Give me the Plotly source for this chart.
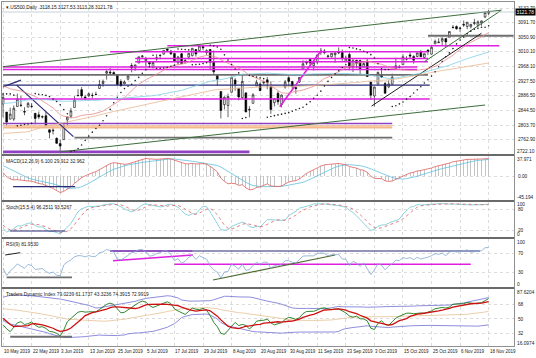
import numpy as np
import pandas as pd
import plotly.graph_objects as go
from plotly.subplots import make_subplots

# ---------------- data ----------------
# closes before the first visible bar (2 Jan 2019 .. 9 May 2019), used only to warm up indicators
warm_close = [2510.0, 2447.9, 2531.9, 2549.7, 2574.4, 2585.0, 2596.6, 2596.3, 2582.6, 2610.3, 2616.1,
              2636.0, 2670.7, 2660.0, 2632.9, 2638.7, 2642.3, 2664.8, 2643.9, 2640.0, 2681.1, 2704.1,
              2706.5, 2724.9, 2737.7, 2731.6, 2706.1, 2707.9, 2709.8, 2744.7, 2753.0, 2745.7, 2775.6,
              2776.0, 2779.8, 2784.7, 2774.9, 2792.7, 2796.1, 2793.9, 2792.4, 2784.5,
              2803.7, 2792.8, 2789.7, 2771.5, 2748.9, 2743.1, 2783.3, 2791.5, 2810.9, 2808.5, 2822.5,
              2832.9, 2832.6, 2824.2, 2854.9, 2800.7, 2798.4, 2818.5, 2805.4, 2815.4, 2834.4,
              2867.2, 2867.2, 2873.4, 2879.4, 2892.7, 2895.8, 2878.2, 2888.2, 2888.3, 2907.4, 2905.6,
              2907.1, 2900.5, 2905.0, 2905.0, 2908.0, 2933.7, 2927.3, 2926.2, 2939.9, 2943.0, 2945.8,
              2923.7, 2917.5, 2945.6, 2932.5, 2884.1, 2879.4, 2870.7]

open_ = [2863.1, 2840.2, 2820.1, 2820.4, 2855.8, 2858.6, 2841.9, 2854.0, 2856.1, 2836.7, 2832.4, 2826.1, 2830.0, 2790.3, 2786.9, 2766.2,
         2751.5, 2762.6, 2818.1, 2828.5, 2852.9, 2885.8, 2903.3, 2882.7, 2886.2, 2886.8, 2889.8, 2906.7, 2920.6, 2949.6, 2952.7, 2951.4, 2945.8, 2926.1, 2919.7, 2932.9,
         2971.4, 2964.7, 2978.1, 2996.0, 2984.3, 2979.8, 2965.5, 2989.3, 2999.6, 3003.4, 3017.8, 3012.1, 3005.1, 2978.9, 3004.3, 2981.9, 2994.7, 2998.8, 3016.3, 3013.3, 3024.5, 3007.7, 3016.2,
         2980.3, 2943.9, 2898.1, 2861.2, 2858.7, 2896.2, 2930.5, 2907.1, 2880.7, 2894.2, 2846.2, 2864.7, 2913.5, 2919.0, 2922.0, 2930.9, 2911.1, 2866.7, 2893.1, 2861.3, 2910.4, 2937.1,
         2926.0, 2909.0, 2924.7, 2960.6, 2980.3, 2988.4, 2971.0, 2981.4, 3009.1, 3012.2, 2996.4, 2995.7, 3001.5, 3010.4, 3008.4, 2983.5, 3002.4, 2968.4, 2985.7, 2985.5, 2967.1,
         2983.7, 2924.8, 2885.4, 2918.6, 2944.2, 2920.4, 2911.1, 2918.6, 2963.1, 2965.8, 2973.6, 2989.7, 3000.8, 2996.8, 2996.5, 3010.7, 2994.0, 3014.8, 3003.3, 3032.1, 3035.4, 3039.7, 3046.9,
         3050.7, 3079.0, 3080.8, 3075.1, 3087.0, 3081.2, 3080.3, 3089.3, 3084.2, 3090.8, 3107.9, 3118.15]
high = [2891.3, 2840.2, 2852.5, 2858.7, 2892.2, 2885.5, 2853.9, 2868.9, 2865.5, 2836.7, 2841.4, 2831.0, 2840.5, 2792.0, 2799.0, 2768.9,
        2763.1, 2804.5, 2827.3, 2852.1, 2885.0, 2904.8, 2910.6, 2888.6, 2895.2, 2894.5, 2897.3, 2930.8, 2931.7, 2958.1, 2964.2, 2954.9, 2946.5, 2932.6, 2929.3, 2944.0,
        2977.9, 2973.2, 2995.8, 3000.0, 2995.0, 2980.8, 2981.9, 3003.0, 3002.3, 3013.9, 3017.8, 3015.0, 3005.3, 2998.3, 3006.5, 2990.7, 3005.9, 3019.6, 3016.3, 3028.0, 3025.6, 3017.2, 3017.4,
        3013.6, 2945.5, 2898.1, 2884.4, 2892.2, 2938.7, 2935.8, 2907.6, 2943.3, 2894.2, 2856.7, 2893.6, 2931.0, 2923.6, 2928.7, 2939.1, 2927.0, 2879.3, 2898.8, 2890.0, 2930.5, 2940.4,
        2928.0, 2914.4, 2938.8, 2985.9, 2985.0, 2989.4, 2979.4, 3000.9, 3020.7, 3017.3, 3002.2, 3006.2, 3007.8, 3022.0, 3016.4, 2999.2, 3008.0, 2989.8, 2987.3, 2987.3, 2983.8,
        2992.5, 2924.8, 2911.1, 2953.7, 2959.8, 2925.5, 2929.3, 2948.5, 2993.3, 2972.8, 3003.3, 2997.5, 3008.3, 3000.0, 3007.3, 3014.6, 3004.8, 3016.1, 3027.4, 3044.1, 3047.9, 3050.1, 3046.9,
        3067.0, 3085.2, 3084.0, 3078.3, 3097.8, 3093.1, 3088.3, 3102.6, 3098.1, 3098.2, 3120.5, 3127.53]
low = [2825.4, 2801.4, 2820.1, 2815.1, 2855.8, 2854.2, 2831.3, 2854.0, 2851.1, 2805.5, 2820.2, 2822.0, 2801.6, 2766.1, 2776.7, 2750.5,
       2728.8, 2762.6, 2800.9, 2822.5, 2852.9, 2885.5, 2878.5, 2874.7, 2882.0, 2879.6, 2887.3, 2905.4, 2911.4, 2931.5, 2946.9, 2944.1, 2916.0, 2913.0, 2918.6, 2929.1,
       2952.2, 2955.9, 2978.0, 2993.0, 2968.0, 2970.1, 2963.4, 2984.6, 2988.8, 3001.9, 3008.8, 3001.2, 2984.3, 2973.1, 2975.9, 2976.7, 2988.6, 2996.8, 2996.2, 3012.6, 3014.5, 3000.9, 2958.1,
       2945.2, 2914.1, 2822.1, 2847.4, 2825.7, 2895.2, 2900.2, 2873.1, 2877.1, 2839.6, 2825.5, 2864.7, 2913.5, 2899.6, 2917.9, 2904.5, 2835.0, 2856.0, 2860.6, 2853.1, 2905.7, 2913.3,
       2905.0, 2891.9, 2921.9, 2960.6, 2972.5, 2969.4, 2957.0, 2975.3, 3000.9, 3002.9, 2990.7, 2993.7, 2978.6, 3003.2, 2984.7, 2982.2, 2957.7, 2952.9, 2963.7, 2945.5, 2967.1,
       2938.7, 2874.9, 2855.9, 2918.6, 2935.7, 2892.7, 2907.4, 2917.1, 2963.1, 2962.9, 2973.6, 2985.2, 2991.8, 2976.3, 2995.4, 2995.0, 2991.2, 3000.4, 3001.9, 3032.1, 3034.8, 3026.0, 3023.2,
       3050.7, 3074.9, 3072.2, 3065.9, 3080.2, 3073.6, 3075.8, 3084.7, 3078.8, 3083.3, 3104.6, 3113.28]
close = [2881.4, 2811.9, 2834.4, 2850.9, 2876.3, 2859.5, 2840.2, 2864.4, 2856.3, 2822.2, 2826.1, 2827.0, 2802.4, 2783.0, 2788.9, 2752.1,
         2744.5, 2803.3, 2826.2, 2843.5, 2873.3, 2886.7, 2885.7, 2879.8, 2891.6, 2887.0, 2889.7, 2917.8, 2926.5, 2954.2, 2950.5, 2945.4, 2917.4, 2913.8, 2924.9, 2941.8,
         2964.3, 2973.0, 2995.8, 2998.0, 2990.4, 2976.0, 2979.6, 2993.1, 2999.9, 3013.8, 3014.3, 3004.0, 2984.4, 2995.1, 2976.6, 2985.0, 3005.5, 3019.6, 3003.7, 3025.9, 3021.0, 3013.2, 2980.4,
         2953.6, 2932.1, 2844.7, 2881.8, 2884.0, 2938.1, 2918.7, 2882.7, 2926.3, 2840.6, 2847.6, 2888.7, 2923.7, 2900.5, 2924.4, 2923.0, 2847.1, 2878.4, 2869.2, 2887.9, 2924.6, 2926.5,
         2912.0, 2906.3, 2937.8, 2976.0, 2978.7, 2978.4, 2979.4, 3000.9, 3009.6, 3007.4, 2998.0, 3005.7, 3006.7, 3006.8, 2992.1, 2991.8, 2966.6, 2984.9, 2977.6, 2961.8, 2976.7,
         2940.3, 2887.6, 2910.6, 2952.0, 2938.8, 2893.1, 2919.4, 2938.1, 2970.3, 2966.2, 2995.7, 2989.7, 2998.0, 2986.2, 3006.7, 2996.0, 3004.5, 3010.3, 3022.6, 3039.4, 3036.9, 3046.8, 3037.6,
         3066.9, 3078.3, 3074.6, 3076.8, 3085.2, 3093.1, 3087.0, 3091.8, 3094.0, 3096.6, 3120.5, 3121.78]

first_date = "2019-05-10"

# axis scales: (bottom value, top value), inner tick values, and the labels of the two ends
price_range = (2722.10, 3150.0)
price_ticks = [2762.90, 2803.70, 2844.50, 2886.50, 2927.50, 2968.10, 3010.10, 3050.90, 3091.70, 3132.70]
price_ends = ("2722.10", None)
macd_range = (-45.194, 37.971)
macd_ticks = [0.0]
macd_tick_text = ["0.00"]
macd_ends = ("-45.194", "37.971")
stoch_range = (0, 100)
stoch_ticks = [20, 80]
stoch_ends = ("0", "100")
rsi_range = (0, 100)
rsi_ticks = [30, 70]
rsi_ends = ("0", "100")
tdi_range = (16.0974, 87.6204)
tdi_ticks = [32, 50, 68]
tdi_ends = ("16.0974", "87.6204")

# hand-drawn horizontal levels on the price window: level, first bar, last bar
h_levels = [3055.0, 3027.0, 3010.0, 2991.0, 2982.0, 2967.0, 2960.0, 2945.0, 2916.0, 2877.0, 2808.0, 2801.0, 2796.0, 2768.0, 2730.0, 2726.0]
h_from =   [119,    46,     30,     37,     37,     0,      0,      0,      0,      0,      0,      0,      0,      20,     0,      0]
h_to =     [143,    139,    119,    119,    119,    116,    116,    119,    119.5,  119.5,  109,    109,    109,    109,    69,     69]
h_style =  ["gray", "mag",  "mag",  "mag",  "mag",  "mag",  "mag",  "gray", "navy", "mag",  "purple", "orange", "orange", "gray", "purple", "purple"]

# hand-drawn trend lines on the price window: (bar, price) -> (bar, price)
t_x0 = [0, 16, 3.8, 0, 103.2, 118, 77.5]
t_y0 = [2968, 2728, 2916, 2911, 2857, 2982, 2855]
t_x1 = [139.5, 135, 19.7, 5, 134, 139.6, 89.2]
t_y1 = [3127, 2860, 2771, 2930, 3062, 3127, 3015]
t_style = ["green", "green", "navy", "navy", "black", "green", "mag"]

# hand-drawn lines on the RSI window
r_x0 = [30, 30, 30.8, 48, 58.8, 0.6, 1]
r_y0 = [75, 75, 54.8, 47.3, 14.6, 66.7, 20.2]
r_x1 = [133.6, 53, 53.2, 131, 93, 4.8, 19.3]
r_y1 = [75, 75, 66.7, 47.3, 66.7, 71.5, 20.2]
r_style = ["navy", "purple", "mag", "mag", "olive", "black", "gray"]

macd_line = ([2.8, 20.2], [-20.1, -20.1])
stoch_line = ([2, 17.4], [17.1, 17.1])
tdi_line = ([2, 19.3], [27.8, 27.8])

# ---------------- indicators ----------------
n = len(close)
dates = pd.bdate_range(first_date, periods=n)
bars = np.arange(n)
nw = len(warm_close)
c_all = pd.Series(warm_close + close, dtype=float)
h_all = pd.Series(warm_close + high, dtype=float)
l_all = pd.Series(warm_close + low, dtype=float)

def vis(s):
    return np.asarray(s)[nw:]

sma20 = vis(c_all.rolling(20, min_periods=1).mean())
sma50 = vis(c_all.rolling(50, min_periods=1).mean())
sma100 = vis(c_all.rolling(100, min_periods=1).mean())

ema12 = c_all.ewm(span=12, adjust=False).mean()
ema26 = c_all.ewm(span=26, adjust=False).mean()
macd = ema12 - ema26
sig = macd.rolling(9, min_periods=1).mean()

def rsi(s, p):
    d = s.diff()
    up = d.clip(lower=0)
    dn = -d.clip(upper=0)
    au = up.ewm(alpha=1 / p, adjust=False).mean()
    ad = dn.ewm(alpha=1 / p, adjust=False).mean()
    return 100 - 100 / (1 + au / ad)

rsi9 = rsi(c_all, 9)

hh = h_all.rolling(15, min_periods=1).max()
ll = l_all.rolling(15, min_periods=1).min()
st_main = 100 * (c_all - ll).rolling(5, min_periods=1).sum() / (hh - ll).rolling(5, min_periods=1).sum()
st_sig = st_main.rolling(4, min_periods=1).mean()

r13 = rsi(c_all, 13)
tdi_green = r13.rolling(2, min_periods=1).mean()
tdi_red = r13.rolling(7, min_periods=1).mean()
tdi_mid = r13.rolling(34, min_periods=1).mean()
tdi_sd = r13.rolling(34, min_periods=1).std(ddof=0)
tdi_up = tdi_mid + 1.6185 * tdi_sd
tdi_lo = tdi_mid - 1.6185 * tdi_sd

def psar(h, l, af0=0.02, afmax=0.2):
    m = len(h)
    out = np.zeros(m)
    bull = False
    af = af0
    ep = l[0]
    out[0] = h[0]
    for i in range(1, m):
        s = out[i - 1] + af * (ep - out[i - 1])
        if bull:
            s = min(s, l[i - 1], l[max(i - 2, 0)])
            if l[i] < s:
                bull = False; s = ep; ep = l[i]; af = af0
            elif h[i] > ep:
                ep = h[i]; af = min(af + af0, afmax)
        else:
            s = max(s, h[i - 1], h[max(i - 2, 0)])
            if h[i] > s:
                bull = True; s = ep; ep = h[i]; af = af0
            elif l[i] < ep:
                ep = l[i]; af = min(af + af0, afmax)
        out[i] = s
    return out

sar = psar(np.array(high), np.array(low))

# ---------------- figure ----------------
W, H = 536, 358
fig = make_subplots(rows=5, cols=1, shared_xaxes=True, vertical_spacing=0.004)

col = {"mag": "#e020e0", "gray": "#6e6e6e", "navy": "#2a2a78", "purple": "#9040c0",
       "orange": "#f5b88a", "green": "#3c6e3c", "black": "#202020", "olive": "#4f6b2f"}
wid = {"mag": 1.6, "gray": 1.8, "navy": 1.2, "purple": 1.5, "orange": 1.6, "green": 1.0,
       "black": 1.0, "olive": 1.2}

def seg(x, y, style, row, w=None):
    fig.add_trace(go.Scatter(x=x, y=y, mode="lines", line=dict(color=col[style], width=w or wid[style]),
                             showlegend=False, hoverinfo="skip"), row=row, col=1)

for lv, a, b, s in zip(h_levels, h_from, h_to, h_style):
    seg([a, b], [lv, lv], s, 1)
for a, ya, b, yb, s in zip(t_x0, t_y0, t_x1, t_y1, t_style):
    seg([a, b], [ya, yb], s, 1)

# bid line
fig.add_trace(go.Scatter(x=[-1, 144], y=[close[-1], close[-1]], mode="lines",
                         line=dict(color="#b8c4d0", width=0.8), showlegend=False), row=1, col=1)

fig.add_trace(go.Scatter(x=bars, y=sma100, mode="lines", line=dict(color="#e8b890", width=0.8), showlegend=False), row=1, col=1)
fig.add_trace(go.Scatter(x=bars, y=sma50, mode="lines", line=dict(color="#80d0e8", width=0.8), showlegend=False), row=1, col=1)
fig.add_trace(go.Scatter(x=bars, y=sma20, mode="lines", line=dict(color="#e88a8a", width=0.8), showlegend=False), row=1, col=1)
fig.add_trace(go.Scatter(x=bars, y=sar, mode="markers", marker=dict(color="#202020", size=1.6), showlegend=False), row=1, col=1)

fig.add_trace(go.Candlestick(x=bars, open=open_, high=high, low=low, close=close,
                             increasing=dict(line=dict(color="black", width=0.6), fillcolor="white"),
                             decreasing=dict(line=dict(color="black", width=0.6), fillcolor="black"),
                             whiskerwidth=0, showlegend=False), row=1, col=1)

# MACD: histogram = main line, with main (red) and signal (cyan)
fig.add_trace(go.Bar(x=bars, y=vis(macd), marker=dict(color="#c4c4c4", line=dict(width=0)), width=0.25, showlegend=False), row=2, col=1)
fig.add_trace(go.Scatter(x=bars, y=vis(sig), mode="lines", line=dict(color="#60c0e0", width=0.8), showlegend=False), row=2, col=1)
fig.add_trace(go.Scatter(x=bars, y=vis(macd), mode="lines", line=dict(color="#e06060", width=0.8), showlegend=False), row=2, col=1)
seg(*macd_line, "navy", 2)

# Stoch
fig.add_trace(go.Scatter(x=bars, y=vis(st_main), mode="lines", line=dict(color="#70c8d8", width=0.8), showlegend=False), row=3, col=1)
fig.add_trace(go.Scatter(x=bars, y=vis(st_sig), mode="lines", line=dict(color="#e06060", width=0.8, dash="dot"), showlegend=False), row=3, col=1)
seg(*stoch_line, "navy", 3)

# RSI
for a, ya, b, yb, s in zip(r_x0, r_y0, r_x1, r_y1, r_style):
    seg([a, b], [ya, yb], s, 4)
fig.add_trace(go.Scatter(x=bars, y=vis(rsi9), mode="lines", line=dict(color="#80a8d0", width=0.8), showlegend=False), row=4, col=1)

# TDI
fig.add_trace(go.Scatter(x=bars, y=vis(tdi_up), mode="lines", line=dict(color="#8080d8", width=0.9), showlegend=False), row=5, col=1)
fig.add_trace(go.Scatter(x=bars, y=vis(tdi_lo), mode="lines", line=dict(color="#8080d8", width=0.9), showlegend=False), row=5, col=1)
fig.add_trace(go.Scatter(x=bars, y=vis(tdi_mid), mode="lines", line=dict(color="#e8c8a0", width=0.9), showlegend=False), row=5, col=1)
fig.add_trace(go.Scatter(x=bars, y=vis(tdi_green), mode="lines", line=dict(color="#1a7a1a", width=0.9), showlegend=False), row=5, col=1)
fig.add_trace(go.Scatter(x=bars, y=vis(tdi_red), mode="lines", line=dict(color="#cc1010", width=1.3), showlegend=False), row=5, col=1)
seg(*tdi_line, "gray", 5, w=2.0)

# ---------------- layout ----------------
L, R, T, B = 2, 22, 2, 12
ph = H - T - B
def fy(px):
    return (H - B - px) / ph

domains = [(154, 2), (200, 156), (237, 202), (287, 239), (346, 289)]
font = "Liberation Sans, Arial, sans-serif"
fs = 4.8
xr = [-0.3, 143.1]
grid_x = list(range(0, n, 8))

axis_common = dict(side="right", showline=True, linecolor="#909090", linewidth=1, mirror=True,
                   showgrid=True, gridcolor="#c4c4c4", griddash="dot", gridwidth=0.6,
                   zeroline=False, ticks="", ticklabelstandoff=2,
                   tickfont=dict(size=fs, color="#202020", family=font), fixedrange=True)

fig.update_layout(
    width=W, height=H, margin=dict(l=L, r=R, t=T, b=B, autoexpand=False),
    paper_bgcolor="white", plot_bgcolor="white", bargap=0, showlegend=False,
    font=dict(family=font, size=fs, color="#202020"),
    xaxis_rangeslider_visible=False,
)
yspecs = [
    (price_range, price_ticks, [f"{v:.2f}" for v in price_ticks], price_ends),
    (macd_range, macd_ticks, macd_tick_text, macd_ends),
    (stoch_range, stoch_ticks, [str(v) for v in stoch_ticks], stoch_ends),
    (rsi_range, rsi_ticks, [str(v) for v in rsi_ticks], rsi_ends),
    (tdi_range, tdi_ticks, [str(v) for v in tdi_ticks], tdi_ends),
]
lab_font = dict(size=fs, family=font, color="#202020")
for i, ((b_px, t_px), (rng, tv, tt, ends)) in enumerate(zip(domains, yspecs), start=1):
    key = "yaxis" if i == 1 else f"yaxis{i}"
    fig.update_layout({key: dict(axis_common, domain=[fy(b_px), fy(t_px)], range=list(rng),
                                 tickvals=tv, ticktext=tt)})
    xkey = "xaxis" if i == 1 else f"xaxis{i}"
    fig.update_layout({xkey: dict(range=xr, showline=True, linecolor="#909090", mirror=True,
                                  showgrid=True, gridcolor="#c4c4c4", griddash="dot", gridwidth=0.6,
                                  tickvals=grid_x, showticklabels=False, ticks="", zeroline=False,
                                  fixedrange=True, rangeslider=dict(visible=False))})
    # end labels drawn inside the window edges, MT4 style
    yref = "y" if i == 1 else f"y{i}"
    if ends[0] is not None:
        fig.add_annotation(x=1.0, xref="paper", y=rng[0], yref=yref, text=ends[0], showarrow=False,
                           xanchor="left", yanchor="bottom", xshift=1, yshift=-1.8, font=lab_font)
    if ends[1] is not None:
        fig.add_annotation(x=1.0, xref="paper", y=rng[1], yref=yref, text=ends[1], showarrow=False,
                           xanchor="left", yanchor="top", xshift=1, yshift=1.5, font=lab_font)

# window separators
for px in [155, 201, 238, 288]:
    fig.add_shape(type="line", xref="paper", yref="paper", x0=0, x1=1.0, y0=fy(px), y1=fy(px),
                  line=dict(color="#6a6a6a", width=2.2))

# date labels (left aligned at the bar, MT4 style)
for b in grid_x:
    d = dates[b]
    fig.add_annotation(x=b, xref="x5", y=fy(351), yref="paper", text=f"{d.day} {d.strftime('%b %Y')}",
                       showarrow=False, xanchor="left", yanchor="middle", xshift=-1,
                       font=dict(size=4.5, family=font, color="#202020"))

# window titles
titles = [
    (2, f"▾ US500,Daily  {open_[-1]:.2f} {high[-1]:.2f} {low[-1]:.2f} {close[-1]:.2f}"),
    (156, "MACD(12,26,9) 6.100 29.912 32.962"),
    (202, "Stoch(15,5,4) 96.2511 93.5267"),
    (239, "RSI(9) 81.9530"),
    (289, "Traders Dynamic Index 79.0239 61.1737 43.3236 74.3915 72.9919"),
]
for px, txt in titles:
    fig.add_annotation(x=0.004, xref="paper", y=fy(px + 1), yref="paper", text=txt, showarrow=False,
                       xanchor="left", yanchor="top", font=lab_font)

# current price box
fig.add_annotation(x=1.0, xref="paper", y=close[-1], yref="y", text=f"{close[-1]:.2f}", showarrow=False,
                   xanchor="left", yanchor="middle", xshift=1, bgcolor="black", borderpad=0.5,
                   font=dict(size=fs, family=font, color="white"))

fig.write_html("out.html", config={"displayModeBar": False, "staticPlot": True},
               post_script="document.body.style.margin='0';document.body.style.overflow='hidden';")
